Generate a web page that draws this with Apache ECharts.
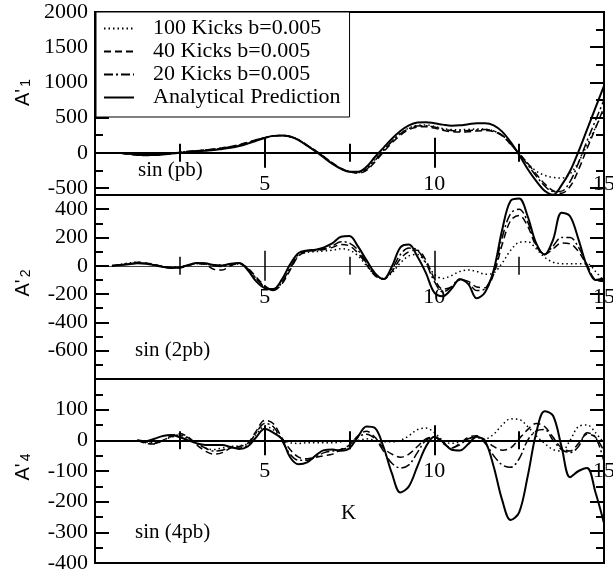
<!DOCTYPE html>
<html>
<head>
<meta charset="utf-8">
<script src="https://cdn.jsdelivr.net/npm/echarts@6/dist/echarts.min.js"></script>
<style>
  html, body { margin: 0; padding: 0; background: #fff; }
  #chart { width: 613px; height: 576px; }
</style>
</head>
<body>
<div id="chart"></div>
<script>
// K grid shared by every curve
const K = [
  0, 0.25, 0.5, 0.75, 1, 1.25, 1.5, 1.75, 2, 2.25, 2.5, 2.75,
  3, 3.25, 3.5, 3.75, 4, 4.25, 4.5, 4.75, 5, 5.25, 5.5, 5.75,
  6, 6.25, 6.5, 6.75, 7, 7.25, 7.5, 7.75, 8, 8.25, 8.5, 8.75,
  9, 9.25, 9.5, 9.75, 10, 10.25, 10.5, 10.75, 11, 11.25, 11.5, 11.75,
  12, 12.25, 12.5, 12.75, 13, 13.25, 13.5, 13.75, 14, 14.25, 14.5, 14.75, 15,
];

// A'1 : sin (pb)
const A1_K100 = [
  null, null, null, -5, -15, -28, -33, -30, -22, -10, 3, 15,
  25, 35, 48, 62, 80, 105, 140, 178, 212, 238, 243, 228,
  182, 105, 25, -60, -150, -225, -265, -275, -225, -100, 35, 165,
  275, 350, 390, 395, 375, 345, 330, 328, 332, 338, 335, 310,
  245, 120, -15, -150, -260, -320, -350, -360, -300, -130, 110, 360, 600,
];
const A1_K40 = [
  null, null, null, -5, -20, -35, -40, -35, -25, -10, 5, 20,
  30, 40, 55, 70, 90, 115, 150, 185, 215, 240, 245, 230,
  185, 110, 30, -55, -145, -220, -270, -290, -250, -130, 10, 140,
  250, 330, 365, 370, 350, 320, 300, 295, 300, 310, 315, 300,
  240, 120, -10, -150, -300, -440, -540, -575, -480, -240, 60, 350, 650,
];
const A1_K20 = [
  null, null, null, -5, -18, -30, -35, -32, -22, -8, 5, 18,
  28, 38, 50, 65, 85, 110, 145, 180, 215, 240, 245, 228,
  182, 105, 25, -60, -150, -225, -268, -282, -235, -110, 30, 160,
  270, 345, 380, 385, 365, 335, 315, 310, 315, 325, 330, 310,
  250, 125, -10, -170, -330, -470, -550, -545, -410, -140, 170, 460, 750,
];
const A1_ANALYTIC = [
  null, null, null, -5, -15, -25, -30, -30, -25, -12, 0, 10,
  20, 30, 40, 55, 70, 95, 130, 170, 210, 240, 245, 230,
  180, 100, 20, -70, -160, -230, -270, -270, -200, -60, 70, 200,
  310, 390, 430, 435, 420, 400, 385, 390, 405, 420, 420, 390,
  300, 150, -30, -230, -400, -540, -595, -460, -260, 20, 330, 640, 950,
];

// A'2 : sin (2pb)
const A2_K100 = [
  null, null, 0, 10, 20, 25, 15, 5, -5, -10, -8, 5,
  15, 12, 5, 5, 10, 12, -20, -90, -145, -170, -120, -20,
  70, 95, 100, 105, 110, 120, 110, 70, 0, -65, -90, -50,
  20, 70, 80, 20, -60, -90, -70, -40, -30, -40, -60, -50,
  20, 110, 165, 170, 120, 60, 25, 15, 15, 15, 15, -40, -110,
];
const A2_K40 = [
  null, null, 0, 5, 15, 25, 20, 10, -5, -15, -15, 0,
  15, 10, -25, -30, 0, 15, -15, -80, -140, -175, -130, -30,
  70, 100, 108, 115, 130, 150, 140, 90, 10, -70, -95, -40,
  50, 100, 110, 40, -90, -165, -150, -100, -110, -150, -155, -60,
  150, 320, 355, 280, 140, 80, 120, 160, 155, 100, 0, -100, -110,
];
const A2_K20 = [
  null, null, 0, 8, 12, 20, 18, 5, -8, -12, -10, 5,
  18, 15, 0, -5, 10, 18, -20, -90, -150, -175, -120, -15,
  80, 105, 110, 120, 140, 170, 160, 110, 20, -60, -95, -25,
  80, 125, 110, 20, -110, -185, -150, -95, -120, -175, -160, -40,
  200, 370, 400, 310, 150, 80, 140, 200, 200, 130, 10, -100, -100,
];
const A2_ANALYTIC = [
  null, null, 0, 5, 10, 18, 15, 5, -8, -15, -12, 5,
  20, 18, 5, 2, 15, 20, -30, -110, -158, -165, -100, 10,
  90, 108, 113, 130, 160, 205, 210, 137, 40, -52, -94, -5,
  130, 150, 65, -50, -190, -215, -165, -95, -130, -230, -185, -30,
  255, 460, 475, 350, 160, 80, 185, 375, 350, 185, -5, -100, -90,
];

// A'4 : sin (4pb)
const A4_K100 = [
  null, null, null, null, null, 0, -5, -8, 0, 10, 15, 5,
  -10, -25, -30, -25, -20, -18, -10, 20, 45, 35, 5, -8,
  -10, -8, -8, -8, -8, -5, 0, 0, 5, 0, -5, -5,
  0, 15, 35, 40, 25, 0, -10, -5, 5, 10, 5, 20,
  50, 70, 68, 45, 15, -10, -30, -35, 0, 45, 50, 25, -10,
];
const A4_K40 = [
  null, null, null, null, null, 0, -10, -12, 0, 15, 22, 10,
  -15, -35, -45, -40, -25, -20, -10, 30, 65, 55, 10, -30,
  -55, -60, -55, -50, -45, -30, -15, 15, 30, 10, -25, -45,
  -55, -45, -20, 5, 10, -10, -25, -10, 10, 15, 0, -20,
  -32, -25, 5, 35, 55, 45, 10, -25, -35, -10, 20, 10, -35,
];
const A4_K20 = [
  null, null, null, null, null, 0, -8, -10, 0, 12, 18, 8,
  -10, -25, -35, -32, -25, -25, -15, 25, 55, 45, 0, -45,
  -65, -65, -55, -40, -35, -30, -20, 10, 20, 5, -35, -75,
  -90, -80, -40, 0, 10, -5, -25, -15, 5, 10, -10, -50,
  -80, -88, -60, 0, 30, 35, 0, -30, -40, -20, 25, 10, -70,
];
const A4_ANALYTIC = [
  null, null, null, null, null, 0, -3, 5, 14, 17, 10, 0,
  -10, -15, -15, -15, -22, -28, -20, 10, 38, 25, 5, -55,
  -78, -72, -50, -32, -30, -34, -26, 12, 45, 40, -21, -108,
  -170, -150, -85, -21, 12, -5, -30, -33, -12, 12, -4, -86,
  -195, -260, -235, -118, 23, 95, 80, -21, -120, -100, -90, -170, -270,
];

// tick values
const X_LABELS = [5, 10, 15];
const A1_LABELS = [-500, 0, 500, 1000, 1500, 2000];
const A1_MINOR = [-250, 250, 750, 1250, 1750];
const A2_LABELS = [-600, -400, -200, 0, 200, 400];
const A2_MINOR = [-700, -500, -300, -100, 100, 300];
const A4_LABELS = [-400, -300, -200, -100, 0, 100];
const A4_MINOR = [-350, -250, -150, -50, 50, 150];

const SERIES_NAMES = ["100 Kicks b=0.005", "40 Kicks b=0.005", "20 Kicks b=0.005", "Analytical Prediction"];

const SERIF = "Liberation Serif";

const LINE_STYLES = [
  { type: [1.5, 3], width: 1.5 },
  { type: [7, 4], width: 1.5 },
  { type: [9, 3, 2, 3], width: 1.5 },
  { type: "solid", width: 2 },
];

const PANELS = [
  { top: 12, height: 183, min: -600, max: 2000, labels: A1_LABELS, minor: A1_MINOR, sub: "1", namePad: 22,
    zero: { color: "#000", width: 2 }, data: [A1_K100, A1_K40, A1_K20, A1_ANALYTIC] },
  { top: 195, height: 184, min: -800, max: 500, labels: A2_LABELS, minor: A2_MINOR, sub: "2", namePad: 8,
    zero: { color: "#444", width: 1 }, data: [A2_K100, A2_K40, A2_K20, A2_ANALYTIC] },
  { top: 379, height: 184, min: -400, max: 200, labels: A4_LABELS, minor: A4_MINOR, sub: "4", namePad: 8,
    zero: { color: "#000", width: 2 }, data: [A4_K100, A4_K40, A4_K20, A4_ANALYTIC] },
];

// in-plot notes
const NOTES = [
  { text: "sin (pb)", x: 138, y: 170 },
  { text: "sin (2pb)", x: 135, y: 350 },
  { text: "sin (4pb)", x: 135, y: 532 },
  { text: "K", x: 341, y: 513 },
];

const plainNumber = v => String(v);

// the labels stay at the grid bottom even when the axis line is on zero,
// so pull them back up to sit just under the zero line
const labelMargin = p => 20 - p.height * (-p.min) / (p.max - p.min);

// x axis sits on y=0; bottom axis ticks point up, top axis ticks point down
const makeXAxis = (gi, p, zeroIndex, position, withLabels) => ({
  type: "value",
  gridIndex: gi,
  position,
  min: 0,
  max: 15,
  interval: 5,
  axisLine: { show: true, onZero: true, onZeroAxisIndex: zeroIndex, lineStyle: { color: p.zero.color, width: p.zero.width } },
  axisTick: { show: true, inside: true, length: 15, lineStyle: { color: "#000", width: p.zero.width === 2 ? 2 : 1.5 } },
  minorTick: { show: true, splitNumber: 2, length: 9, lineStyle: { color: "#000", width: p.zero.width === 2 ? 2 : 1.5 } },
  axisLabel: withLabels
    ? { show: true, customValues: X_LABELS, formatter: plainNumber, margin: labelMargin(p), color: "#000", fontFamily: SERIF, fontSize: 22 }
    : { show: false },
  splitLine: { show: false },
  minorSplitLine: { show: false },
});

const makeYAxis = (gi, p, side, ticks, len, withLabels) => {
  const axis = {
    type: "value",
    gridIndex: gi,
    position: side,
    min: p.min,
    max: p.max,
    axisLine: { show: false, onZero: false },
    axisTick: { show: true, inside: true, length: len, customValues: ticks, lineStyle: { color: "#000", width: 2 } },
    axisLabel: { show: false },
    splitLine: { show: false },
  };
  if (withLabels) {
    axis.axisLabel = { show: true, customValues: p.labels, formatter: plainNumber, margin: 7, color: "#000", fontFamily: SERIF, fontSize: 22 };
    axis.name = `{a|A'}{s|${p.sub}}`;
    axis.nameLocation = "middle";
    axis.nameRotate = 90;
    axis.nameGap = 62;
    axis.nameTextStyle = {
      padding: [0, 0, 0, p.namePad],
      rich: {
        a: { fontFamily: "Liberation Sans", fontSize: 20, lineHeight: 20, color: "#000", verticalAlign: "top" },
        s: { fontFamily: "Liberation Sans", fontSize: 14, lineHeight: 14, color: "#000", verticalAlign: "bottom", padding: [8, 0, 0, 2] },
      },
    };
  }
  return axis;
};

const grids = [];
const xAxes = [];
const yAxes = [];
const series = [];

PANELS.forEach((p, gi) => {
  grids.push({
    left: 95, right: 9, top: p.top, height: p.height,
    show: true, borderColor: "#000", borderWidth: 2, backgroundColor: "transparent",
    outerBoundsMode: "none",
  });
  const xBase = xAxes.length;
  const yBase = yAxes.length;
  xAxes.push(
    makeXAxis(gi, p, yBase, "bottom", true),
    makeXAxis(gi, p, yBase, "top", false)
  );
  yAxes.push(
    makeYAxis(gi, p, "left", p.labels, 14, true),
    makeYAxis(gi, p, "left", p.minor, 8, false),
    makeYAxis(gi, p, "right", p.labels, 14, false),
    makeYAxis(gi, p, "right", p.minor, 8, false)
  );
  p.data.forEach((values, si) => {
    series.push({
      name: SERIES_NAMES[si],
      type: "line",
      xAxisIndex: xBase,
      yAxisIndex: yBase,
      data: K.map((k, i) => [k, values[i]]),
      smooth: 0.35,
      symbol: "none",
      lineStyle: { color: "#000", width: LINE_STYLES[si].width, type: LINE_STYLES[si].type },
      itemStyle: { color: "#000" },
      z: 3,
    });
  });
});

const chart = echarts.init(document.getElementById("chart"), null, { renderer: "canvas" });
chart.setOption({
  animation: false,
  backgroundColor: "#fff",
  grid: grids,
  xAxis: xAxes,
  yAxis: yAxes,
  series,
  legend: {
    data: SERIES_NAMES,
    orient: "vertical",
    left: 96,
    top: 12,
    itemWidth: 30,
    itemHeight: 14,
    itemGap: 0,
    padding: [5, 9, 8, 7],
    backgroundColor: "#fff",
    borderColor: "#000",
    borderWidth: 1,
    selectedMode: false,
    itemStyle: { opacity: 0 },
    textStyle: { fontFamily: SERIF, fontSize: 22, color: "#000", lineHeight: 23, padding: [0, 0, 0, 14] },
  },
  graphic: NOTES.map(n => ({
    type: "text",
    x: n.x,
    y: n.y,
    z: 10,
    style: { text: n.text, font: `21px '${SERIF}'`, fill: "#000", verticalAlign: "middle", textVerticalAlign: "middle" },
  })),
});
</script>
</body>
</html>
